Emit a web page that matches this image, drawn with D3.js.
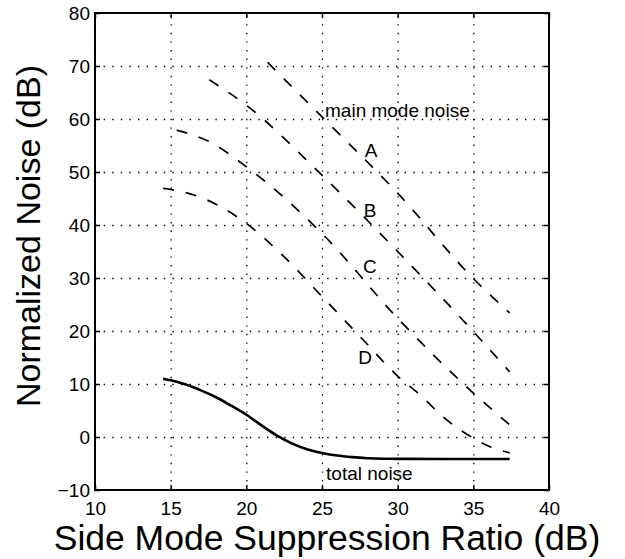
<!DOCTYPE html>
<html>
<head>
<meta charset="utf-8">
<script src="https://cdn.jsdelivr.net/npm/d3@7"></script>
<style>
  body { margin: 0; background: #fff; }
  svg { display: block; font-family: "Liberation Sans", Arial, Helvetica, sans-serif; }
  .grid line { stroke: #000; stroke-width: 1.3; stroke-dasharray: 1.4, 7.2; }
  .grid path { display: none; }
  .axis path { display: none; }
  .axis line { stroke: #000; stroke-width: 1.5; }
  .axis text { font-size: 19px; fill: #000; }
</style>
</head>
<body>
<div id="chart"></div>
<script>
// tick values and labels
const xTicks = [10, 15, 20, 25, 30, 35, 40];
const xTickLabels = ['10', '15', '20', '25', '30', '35', '40'];
const yTicks = [-10, 0, 10, 20, 30, 40, 50, 60, 70, 80];
const yTickLabels = ['\u221210', '0', '10', '20', '30', '40', '50', '60', '70', '80'];

// main mode noise curves (dashed)
const xA = [21.4, 25, 30, 35, 37.4];
const yA = [70.7, 60.4, 46.0, 29.9, 23.4];
const xB = [17.55, 20, 25, 30, 35, 37.4];
const yB = [67.4, 62.6, 49.4, 35.0, 19.9, 12.3];
const xC = [15.4, 17.5, 20, 25, 30, 35, 37.4];
const yC = [57.9, 55.8, 51.0, 38.4, 22.4, 8.3, 2.3];
const xD = [14.5, 15, 16, 17.5, 20, 22.5, 25, 27.5, 30, 31.5, 33, 34, 35, 36, 37.4];
const yD = [46.9, 46.7, 46.1, 44.6, 40.3, 34.0, 26.5, 19.0, 11.5, 7.9, 3.8, 1.6, -0.2, -1.7, -3.0];

// total noise (solid)
const xTotal = [14.5, 15, 16, 17, 18, 19, 20, 21, 22, 23, 24, 25, 26, 27, 28, 29, 30, 33, 37.4];
const yTotal = [11.0, 10.7, 9.9, 8.8, 7.5, 5.9, 4.2, 2.2, 0.3, -1.2, -2.3, -3.0, -3.5, -3.8, -4.0, -4.1, -4.12, -4.15, -4.15];

const width = 625;
const height = 559;
const margin = { top: 13, right: 76, bottom: 69, left: 95 };
const plotW = width - margin.left - margin.right;
const plotH = height - margin.top - margin.bottom;

const svg = d3.select('#chart')
  .append('svg')
  .attr('width', width)
  .attr('height', height);

const g = svg.append('g')
  .attr('transform', `translate(${margin.left},${margin.top})`);

const x = d3.scaleLinear().domain([10, 40]).range([0, plotW]);
const y = d3.scaleLinear().domain([-10, 80]).range([plotH, 0]);

// dotted grid
g.append('g')
  .attr('class', 'grid')
  .attr('transform', `translate(0,${plotH})`)
  .call(d3.axisBottom(x).tickValues(xTicks.slice(1, -1)).tickSize(-plotH).tickFormat(''));
g.append('g')
  .attr('class', 'grid')
  .call(d3.axisLeft(y).tickValues(yTicks.slice(1, -1)).tickSize(-plotW).tickFormat(''));

// axes with inward ticks
g.append('g')
  .attr('class', 'axis')
  .attr('transform', `translate(0,${plotH})`)
  .call(d3.axisBottom(x).tickValues(xTicks).tickSize(-5).tickPadding(12)
    .tickFormat((d, i) => xTickLabels[i]));
g.append('g')
  .attr('class', 'axis')
  .call(d3.axisLeft(y).tickValues(yTicks).tickSize(-5).tickPadding(5)
    .tickFormat((d, i) => yTickLabels[i]));
g.append('g')
  .attr('class', 'axis')
  .call(d3.axisTop(x).tickValues(xTicks).tickSize(-5).tickFormat(''));
g.append('g')
  .attr('class', 'axis')
  .attr('transform', `translate(${plotW},0)`)
  .call(d3.axisRight(y).tickValues(yTicks).tickSize(-5).tickFormat(''));

// frame
g.append('rect')
  .attr('x', 0).attr('y', 0)
  .attr('width', plotW).attr('height', plotH)
  .attr('fill', 'none')
  .attr('stroke', '#000')
  .attr('stroke-width', 2);

const line = d3.line()
  .x(d => x(d[0]))
  .y(d => y(d[1]))
  .curve(d3.curveMonotoneX);

const dashed = [[xA, yA], [xB, yB], [xC, yC], [xD, yD]];
dashed.forEach(s => {
  g.append('path')
    .datum(d3.zip(s[0], s[1]))
    .attr('d', line)
    .attr('fill', 'none')
    .attr('stroke', '#000')
    .attr('stroke-width', 1.7)
    .attr('stroke-dasharray', '11,12');
});

g.append('path')
  .datum(d3.zip(xTotal, yTotal))
  .attr('d', line)
  .attr('fill', 'none')
  .attr('stroke', '#000')
  .attr('stroke-width', 2.6);

// annotations
function note(txt, vx, vy, anchor) {
  g.append('text')
    .attr('x', x(vx))
    .attr('y', y(vy))
    .attr('text-anchor', anchor)
    .style('font-size', '19px')
    .text(txt);
}
note('main mode noise', 25.2, 60.4, 'start');
note('A', 28.24, 52.8, 'middle');
note('B', 28.17, 41.5, 'middle');
note('C', 28.17, 30.9, 'middle');
note('D', 27.85, 13.8, 'middle');
note('total noise', 25.27, -8.1, 'start');

// axis titles
svg.append('text')
  .attr('x', 327)
  .attr('y', 550)
  .attr('text-anchor', 'middle')
  .style('font-size', '35.5px')
  .text('Side Mode Suppression Ratio (dB)');

svg.append('text')
  .attr('transform', 'translate(40,236) rotate(-90)')
  .attr('text-anchor', 'middle')
  .style('font-size', '34px')
  .text('Normalized Noise (dB)');
</script>
</body>
</html>
